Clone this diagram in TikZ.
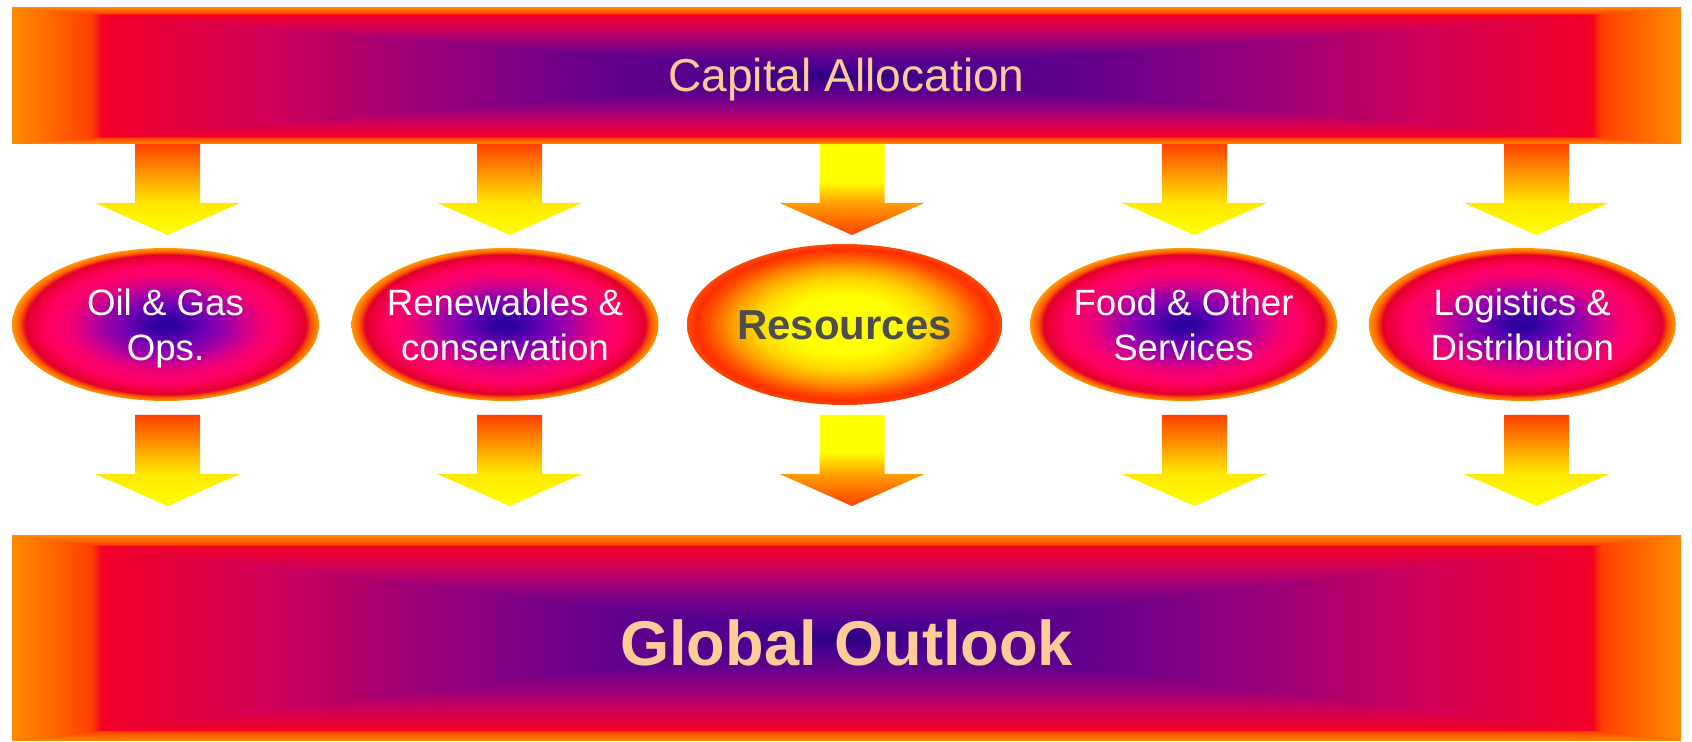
\documentclass[tikz,border=0pt]{standalone}
\usepackage{fontspec}
\setmainfont{Liberation Sans}
\usetikzlibrary{shapes.geometric}

\definecolor{peach}{HTML}{FFCC99}
\definecolor{slate}{HTML}{4D4D4D}
\definecolor{glowA}{HTML}{3000A0}
\definecolor{glowB}{HTML}{6800B4}
\definecolor{glowC}{HTML}{9C00A8}
\definecolor{glowD}{HTML}{D0008C}
\definecolor{glowE}{HTML}{F50070}
\definecolor{glowF}{HTML}{FF0064}
\definecolor{glowG}{HTML}{F00040}
\definecolor{glowH}{HTML}{E0002A}
\definecolor{glowI}{HTML}{FF5A00}
\definecolor{glowJ}{HTML}{FF9A00}
\definecolor{sunA}{HTML}{FFFF00}
\definecolor{sunB}{HTML}{FFD800}
\definecolor{sunC}{HTML}{FF9A00}
\definecolor{sunD}{HTML}{FF5000}
\definecolor{sunE}{HTML}{FF2E00}
\definecolor{sunF}{HTML}{FF4A00}
\definecolor{dropA}{HTML}{FFFF00}
\definecolor{dropB}{HTML}{FFE800}
\definecolor{dropC}{HTML}{FFC800}
\definecolor{dropD}{HTML}{FF9000}
\definecolor{dropE}{HTML}{FF4000}
\definecolor{dropF}{HTML}{FFA000}

\pgfdeclareradialshading{pinkglow}{\pgfpointorigin}{color(0bp)=(glowA); color(2bp)=(glowA);
  color(6bp)=(glowB); color(10bp)=(glowC); color(13bp)=(glowD); color(16bp)=(glowE);
  color(19bp)=(glowF); color(21.5bp)=(glowG); color(22.8bp)=(glowH); color(23.8bp)=(glowI);
  color(25bp)=(glowJ); color(50bp)=(glowJ)}
\pgfdeclareradialshading{sunglow}{\pgfpointorigin}{color(0bp)=(sunA); color(9bp)=(sunA);
  color(14bp)=(sunB); color(18bp)=(sunC); color(21.5bp)=(sunD); color(23.5bp)=(sunE);
  color(25bp)=(sunF); color(50bp)=(sunF)}
\pgfdeclareverticalshading{hotfall}{100bp}{color(0bp)=(dropA); color(25bp)=(dropA);
  color(42.6bp)=(dropB); color(49bp)=(dropC); color(60bp)=(dropD); color(75bp)=(dropE);
  color(100bp)=(dropE)}
\pgfdeclareverticalshading{sunfall}{100bp}{color(0bp)=(dropE); color(25bp)=(dropE);
  color(42.6bp)=(dropF); color(54.5bp)=(dropA); color(100bp)=(dropA)}
\pgfdeclarefunctionalshading{barglow}{\pgfpoint{-50bp}{-50bp}}{\pgfpoint{50bp}{50bp}}{}{
  abs exch abs 2 copy lt {exch} if pop 25 div
  dup 0.5 lt {
    dup 0.12 lt { 8.3333 mul dup 0.12 mul 0.17 add exch 0 exch 0.06 mul 0.5 add }
    { dup 0.3 lt { 0.12 sub 5.5556 mul dup 0.11 mul 0.29 add exch 0 exch -0.01 mul 0.56 add }
      { 0.3 sub 5 mul dup 0.2 mul 0.4 add exch 0 exch -0.07 mul 0.55 add } ifelse } ifelse
  }{
    dup 0.7 lt { 0.5 sub 5 mul dup 0.22 mul 0.6 add exch 0 exch -0.14 mul 0.48 add }
    { dup 0.893 lt { 0.7 sub 5.1813 mul dup 0.13 mul 0.82 add exch 0 exch -0.19 mul 0.34 add }
      { dup 0.905 lt { 0.893 sub 83.333 mul dup 0.05 mul 0.95 add exch dup 0.25 mul exch -0.15 mul 0.15 add }
        { 1 2 copy gt {exch} if pop 0.905 sub 10.526 mul 1 exch 0.3 mul 0.25 add 0 } ifelse } ifelse } ifelse
  } ifelse
}

\newcommand{\droparrow}[2]{\path[#1] (#2) ++(-32.5,0) -- ++(65,0) -- ++(0,59) -- ++(40,0)
  -- ++(-72.5,32) -- ++(-72.5,-32) -- ++(40,0) -- cycle;}

\begin{document}
\begin{tikzpicture}[x=0.02cm, y=-0.02cm,
    bar/.style={rectangle, inner sep=0pt, minimum width=33.38cm, shade, shading=barglow, text=peach},
    oval/.style={ellipse, inner sep=0pt, minimum width=6.14cm, minimum height=3.06cm, shade, shading=pinkglow},
    sun oval/.style={ellipse, inner sep=0pt, minimum width=6.3cm, minimum height=3.22cm, shade, shading=sunglow},
    oval text/.style={text=white, align=center, inner sep=0pt, font=\fontsize{20.86}{25.6}\selectfont,
      text height=1.425cm, text depth=0pt},
    sun text/.style={text=slate, inner sep=0pt, font=\fontsize{23.85}{28}\selectfont\bfseries,
      text height=0.6cm, text depth=0pt},
    hot arrow/.style={shade, shading=hotfall},
    sun arrow/.style={shade, shading=sunfall}]
  \useasboundingbox (0,0) rectangle (1692,742);

  \node[bar, minimum height=2.74cm, font=\fontsize{26.26}{31}\selectfont,
    text height=0.66cm, text depth=0pt] (cap) at (846.5,75.5) {Capital Allocation};
  \node[bar, minimum height=4.12cm, font=\fontsize{35.97}{43}\selectfont\bfseries,
    text height=1.094cm, text depth=0pt] (glob) at (846.5,638) {Global Outlook};

  \node[oval, label={[oval text]center:{Oil \& Gas\\Ops.}}] (oil) at (165.5,324.5) {};
  \node[oval, label={[oval text]center:{Renewables \&\\conservation}}] (renew) at (505,324.5) {};
  \node[sun oval, label={[sun text]center:Resources}] (res) at (844.5,324.5) {};
  \node[oval, label={[oval text]center:{Food \& Other\\Services}}] (food) at (1183.5,324.5) {};
  \node[oval, label={[oval text]center:{Logistics \&\\Distribution}}] (logi) at (1522.3,324.5) {};

  \foreach \x/\s [count=\i] in {167.5/hot,509.7/hot,852/sun,1194.3/hot,1536.5/hot} {
    \coordinate (in\i) at (\x,144);
    \coordinate (out\i) at (\x,415);
    \droparrow{\s\space arrow}{in\i}
    \droparrow{\s\space arrow}{out\i}
  }
\end{tikzpicture}
\end{document}
